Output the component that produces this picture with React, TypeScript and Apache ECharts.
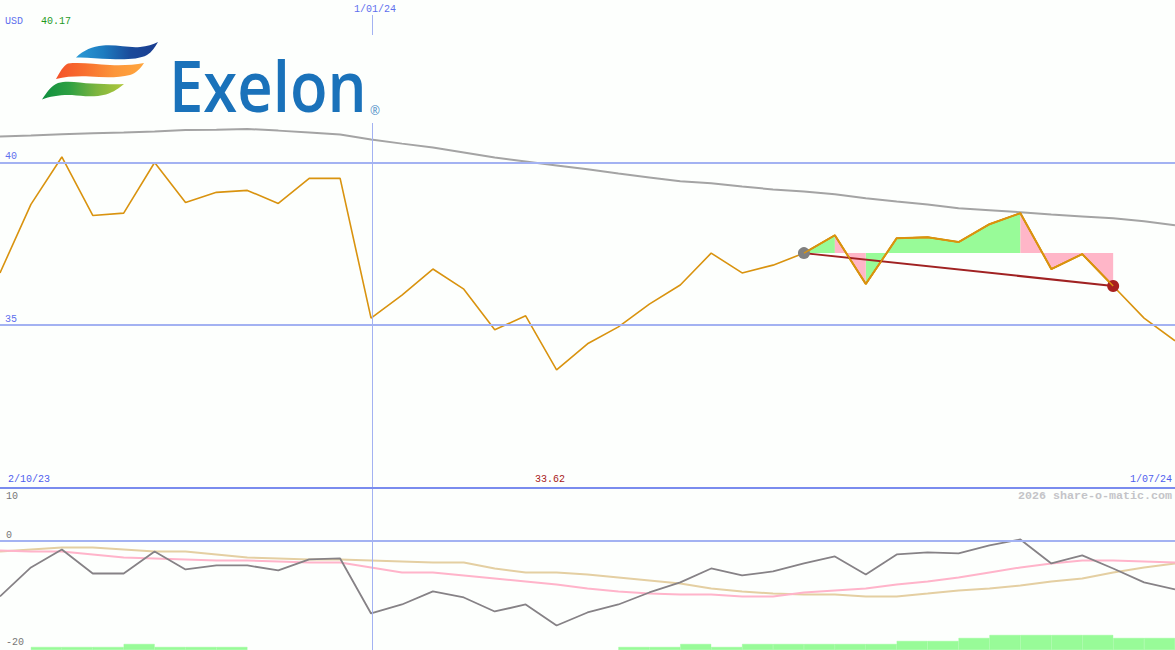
import React, { useEffect, useRef } from "react";
import * as echarts from "echarts";

const priceValues = [36.6, 38.71, 40.17, 38.37, 38.44, 40.0, 38.77, 39.08, 39.14, 38.74, 39.51, 39.51, 35.21, 35.92, 36.72, 36.1, 34.85, 35.28, 33.62, 34.42, 34.94, 35.64, 36.23, 37.21, 36.6, 36.84, 37.21, 37.76, 36.26, 37.67, 37.7, 37.55, 38.1, 38.44, 36.72, 37.18, 36.2, 35.21, 34.51];
const longAverage = [40.8, 40.83, 40.87, 40.9, 40.92, 40.95, 41.0, 41.01, 41.03, 40.98, 40.92, 40.86, 40.71, 40.58, 40.46, 40.31, 40.15, 40.03, 39.91, 39.79, 39.66, 39.54, 39.42, 39.36, 39.26, 39.17, 39.11, 39.02, 38.9, 38.8, 38.71, 38.59, 38.53, 38.47, 38.4, 38.34, 38.28, 38.19, 38.07];
const momentum = [-10.45, -5.01, -1.63, -6.14, -6.14, -2.01, -5.38, -4.63, -4.63, -5.57, -3.51, -3.32, -13.64, -11.95, -9.51, -10.64, -13.26, -11.95, -15.89, -13.45, -11.95, -9.7, -7.82, -5.2, -6.51, -5.76, -4.26, -2.95, -6.32, -2.57, -2.2, -2.38, -0.88, 0.24, -4.26, -2.76, -5.2, -7.82, -9.14];
const momentumFast = [-1.82, -2.01, -2.01, -2.57, -3.13, -3.32, -3.51, -3.7, -3.7, -3.88, -4.07, -4.07, -5.01, -5.95, -5.95, -6.51, -7.07, -7.64, -8.2, -8.95, -9.51, -9.89, -10.08, -10.08, -10.45, -10.45, -9.7, -9.32, -8.95, -8.2, -7.64, -6.89, -5.95, -5.01, -4.26, -3.7, -3.7, -3.88, -4.07];
const momentumSlow = [-2.01, -1.63, -1.26, -1.26, -1.63, -2.01, -2.01, -2.57, -3.13, -3.32, -3.51, -3.51, -3.7, -3.88, -4.07, -4.07, -5.2, -5.95, -5.95, -6.32, -6.89, -7.45, -8.01, -8.95, -9.51, -9.89, -10.08, -10.08, -10.45, -10.45, -9.89, -9.32, -8.95, -8.39, -7.64, -7.07, -5.95, -5.01, -4.26];
const histogram = [0, 1, 1, 1, 2, 1, 1, 1, 0, 0, 0, 0, 0, 0, 0, 0, 0, 0, 0, 0, 1, 1, 2, 1, 2, 2, 2, 2, 2, 3, 3, 4, 5, 5, 5, 5, 4, 4];
const priceTicks = [40, 35];
const lowerTicks = [10, 0, -20];
const cursorIndex = 12.03;
const tradeStart = 26;
const tradeEnd = 36;
const gainRuns = [[26, 27], [28, 33]];
const lossRuns = [[27, 28], [33, 36]];

const BG = "#fdfffd";
const BLUE = "#a3b2f2";
const MONO = '"Liberation Mono", "DejaVu Sans Mono", monospace';

const points = (values: number[]) => values.map((v, i) => [i, v]);

const thinLine = (name: string, data: number[][], color: string, width: number, axis: number, z = 3) => ({
  name,
  type: "line",
  xAxisIndex: axis,
  yAxisIndex: axis,
  data,
  showSymbol: false,
  symbol: "none",
  z,
  lineStyle: { color, width },
});

const fillRun = (run: number[], color: string) => {
  const base = priceValues[tradeStart];
  return {
    type: "line",
    xAxisIndex: 0,
    yAxisIndex: 0,
    data: points(priceValues).slice(run[0], run[1] + 1),
    showSymbol: false,
    symbol: "none",
    z: 2,
    lineStyle: { width: 0 },
    areaStyle: { color, opacity: 1, origin: base },
  };
};

const swooshBlue = "M76 57.5C84 50 92 46.5 103 45.5C118 44.5 128 48 140 47C147 46.5 153 44.5 158 42C155 47 152 52 147 55C139 59.5 124 59.5 110 59C98 58.5 86 57 76 57.5Z";
const swooshOrange = "M56 79C60 72 63 66 68 63.5C82 62 95 64.5 110 65C122 65.5 134 65 144 63C140 69 136 73 130 75C118 78 104 77.5 90 76.5C78 76 66 76.5 56 79Z";
const swooshGreen = "M42 99.5C47 92 51 86 58 83C68 80 80 83 92 83.5C103 84 115 84.5 124 84C119 88 114 92 106 94.5C94 97.5 82 96 72 95C62 94.5 50 96 42 99.5Z";
echarts.graphic.registerShape("swooshBlue", echarts.graphic.extendPath(swooshBlue, {}));
echarts.graphic.registerShape("swooshOrange", echarts.graphic.extendPath(swooshOrange, {}));
echarts.graphic.registerShape("swooshGreen", echarts.graphic.extendPath(swooshGreen, {}));

const label = (text: string, x: number, y: number, fill: string, size = 10, align = "left", weight = "normal") => ({
  type: "text",
  z: 60,
  x,
  y,
  style: { text, fill, font: `${weight} ${size}px ${MONO}`, textAlign: align, textVerticalAlign: "middle" },
});

const gradient = (colors: string[]) =>
  new echarts.graphic.LinearGradient(0, 0, 1, 0, colors.map((color, i) => ({ offset: i / (colors.length - 1), color })));

export default function App() {
  const ref = useRef<HTMLDivElement>(null);
  useEffect(() => {
    document.body.style.margin = "0";
    document.body.style.overflow = "hidden";
    const chart = echarts.init(ref.current!, undefined, { renderer: "svg" });
    const hiddenX = {
      type: "value",
      min: 0,
      max: 38,
      axisLabel: { show: false },
      axisTick: { show: false },
      splitLine: { show: false },
      axisLine: { show: false },
    };
    chart.setOption({
      animation: false,
      backgroundColor: BG,
      grid: [
        { left: 0, right: 0, top: -1.6, height: 489 },
        { left: 0, right: 0, top: 487.4, height: 160 },
        { left: 0, right: 0, top: 488, height: 162 },
      ],
      xAxis: [
        { ...hiddenX, gridIndex: 0, z: 5, axisLine: { show: true, onZero: false, lineStyle: { color: "#7a8cee", width: 2 } } },
        { ...hiddenX, gridIndex: 1 },
        { type: "category", gridIndex: 2, data: histogram.map((_, i) => i), show: false, boundaryGap: true },
        { ...hiddenX, gridIndex: 2 },
      ],
      yAxis: [
        {
          type: "value",
          gridIndex: 0,
          min: 30,
          max: 45,
          interval: 5,
          axisLine: { show: false },
          axisTick: { show: false },
          splitLine: { show: false },
          axisLabel: {
            inside: true,
            margin: 5,
            color: "#5f70ee",
            fontFamily: MONO,
            fontSize: 10,
            verticalAlign: "bottom",
            lineHeight: 11,
            formatter: (v: number) => (priceTicks.includes(v) ? String(v) : ""),
          },
        },
        {
          type: "value",
          gridIndex: 1,
          min: -20,
          max: 10,
          interval: 10,
          axisLine: { show: false },
          axisTick: { show: false },
          splitLine: { show: false },
          axisLabel: {
            inside: true,
            margin: 6,
            showMinLabel: true,
            showMaxLabel: true,
            hideOverlap: false,
            formatter: (v: number) => (lowerTicks.includes(v) ? (v === 10 ? `{below|${v}}` : `{above|${v}}`) : ""),
            rich: {
              below: { color: "#777777", fontFamily: MONO, fontSize: 10, padding: [18, 0, 0, 0] },
              above: { color: "#777777", fontFamily: MONO, fontSize: 10, padding: [0, 0, 10, 0] },
            },
          },
        },
        { type: "value", gridIndex: 2, min: 0, max: 54, show: false },
      ],
      series: [
        {
          type: "bar",
          xAxisIndex: 2,
          yAxisIndex: 2,
          data: histogram.map((v) => (v === 0 ? "-" : v)),
          barCategoryGap: 0,
          barWidth: "100%",
          itemStyle: { color: "#98fb98", borderColor: "#98fb98", borderWidth: 0.4 },
          z: 1,
        },
        {
          type: "line",
          xAxisIndex: 0,
          yAxisIndex: 0,
          data: [],
          z: 1,
          markLine: {
            silent: true,
            symbol: "none",
            animation: false,
            label: { show: false },
            lineStyle: { color: BLUE, type: "solid", width: 2 },
            data: [
              ...priceTicks.map((t) => ({ yAxis: t })),
              { xAxis: cursorIndex, lineStyle: { color: BLUE, type: "solid", width: 1 } },
            ],
          },
        },
        {
          type: "line",
          xAxisIndex: 1,
          yAxisIndex: 1,
          data: [],
          z: 1,
          markLine: {
            silent: true,
            symbol: "none",
            animation: false,
            label: { show: false },
            lineStyle: { color: BLUE, type: "solid", width: 2 },
            data: [{ yAxis: 0 }],
          },
        },
        {
          type: "line",
          xAxisIndex: 3,
          yAxisIndex: 2,
          data: [],
          z: 1,
          markLine: {
            silent: true,
            symbol: "none",
            animation: false,
            label: { show: false },
            lineStyle: { color: BLUE, type: "solid", width: 1 },
            data: [{ xAxis: cursorIndex }],
          },
        },
        ...gainRuns.map((r) => fillRun(r, "#98fb98")),
        ...lossRuns.map((r) => fillRun(r, "#ffb6c8")),
        thinLine("long", points(longAverage), "#a4a4a4", 2, 0),
        thinLine("price", points(priceValues), "#d9930f", 1.6, 0, 4),
        thinLine("trade-price", points(priceValues).slice(tradeStart, tradeEnd + 1), "#d9930f", 2, 0, 4),
        {
          type: "line",
          xAxisIndex: 0,
          yAxisIndex: 0,
          z: 5,
          symbol: "circle",
          symbolSize: 12,
          showSymbol: true,
          lineStyle: { color: "#a02222", width: 2 },
          data: [
            { value: [tradeStart, priceValues[tradeStart]], itemStyle: { color: "#808080" } },
            { value: [tradeEnd, priceValues[tradeEnd]], itemStyle: { color: "#a82020" } },
          ],
        },
        thinLine("price-over", points(priceValues).slice(tradeStart, tradeEnd + 1), "#d9930f", 1.4, 0, 6),
        thinLine("slow", points(momentumSlow), "#e4cfa2", 2, 1),
        thinLine("fast", points(momentumFast), "#ffb4ca", 2, 1),
        thinLine("momentum", points(momentum), "#868286", 1.8, 1, 4),
      ],
      graphic: [
        { type: "rect", z: 50, shape: { x: 340, y: 0, width: 60, height: 15 }, style: { fill: BG } },
        { type: "rect", z: 50, shape: { x: 30, y: 35, width: 360, height: 88 }, style: { fill: BG } },
        {
          type: "swooshBlue",
          z: 51,
          style: { fill: gradient(["#2b9bd6", "#1d7cc0", "#1a4a9a", "#1a3d8f"]) },
        },
        {
          type: "swooshOrange",
          z: 51,
          style: { fill: gradient(["#f4522a", "#f8702e", "#fc963a", "#ffa63e"]) },
        },
        {
          type: "swooshGreen",
          z: 51,
          style: { fill: gradient(["#0e8f3f", "#2ea043", "#7db53f", "#b0c83a"]) },
        },
        {
          type: "text",
          z: 51,
          x: 169,
          y: 85,
          scaleX: 0.88,
          style: { text: "Exelon", fill: "#1a72ba", font: '600 70px "Open Sans"', textAlign: "left", textVerticalAlign: "middle" },
        },
        {
          type: "text",
          z: 51,
          x: 375,
          y: 110,
          style: { text: "®", fill: "#4f8fc8", font: '12px "Open Sans"', textAlign: "center", textVerticalAlign: "middle" },
        },
        label("USD", 5, 21, "#5f70ee"),
        label("40.17", 41, 21, "#1f9a1f"),
        label("1/01/24", 354, 9, "#5f70ee"),
        label("2/10/23", 8, 479, "#4f60ee"),
        label("33.62", 535, 479, "#a82020"),
        label("1/07/24", 1172, 479, "#4f60ee", 10, "right"),
        label("2026 share-o-matic.com", 1172, 496, "#c4c4c8", 11.67, "right", "bold"),
      ],
    });
    return () => chart.dispose();
  }, []);
  return <div ref={ref} style={{ position: "absolute", left: 0, top: 0, width: 1175, height: 650 }} />;
}
